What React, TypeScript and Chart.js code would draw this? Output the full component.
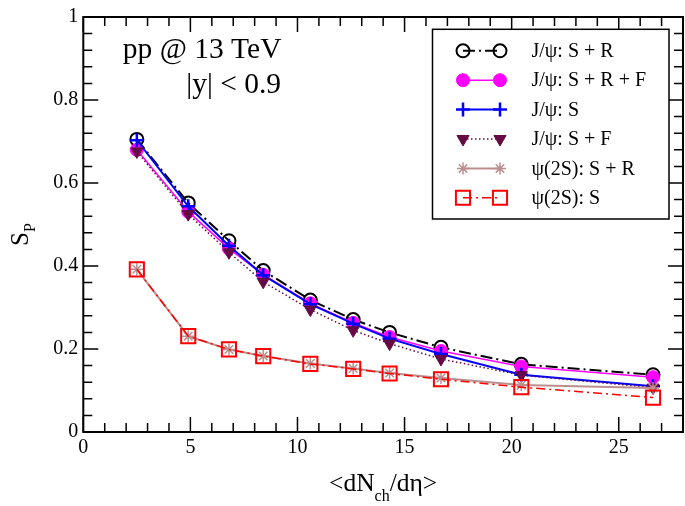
import React, { useEffect, useRef } from 'react';
import { Chart, registerables } from 'chart.js';

Chart.register(...registerables);

// ---------------- data ----------------
const X_VALUES = [2.5, 4.9, 6.8, 8.4, 10.6, 12.6, 14.3, 16.7, 20.45, 26.6];

const JPSI_S_R = [0.705, 0.552, 0.461, 0.389, 0.318, 0.271, 0.240, 0.204, 0.163, 0.138];
const JPSI_S_R_F = [0.680, 0.531, 0.442, 0.379, 0.310, 0.263, 0.229, 0.195, 0.158, 0.132];
const JPSI_S = [0.703, 0.544, 0.449, 0.378, 0.308, 0.261, 0.225, 0.188, 0.138, 0.110];
const JPSI_S_F = [0.676, 0.525, 0.433, 0.362, 0.295, 0.245, 0.213, 0.176, 0.137, 0.107];
const PSI2S_S_R = [0.392, 0.231, 0.199, 0.183, 0.165, 0.153, 0.142, 0.130, 0.113, 0.106];
const PSI2S_S = [0.392, 0.231, 0.199, 0.183, 0.164, 0.152, 0.141, 0.127, 0.108, 0.083];

const SERIES_LABELS = [
  'J/ψ: S + R',
  'J/ψ: S + R + F',
  'J/ψ: S',
  'J/ψ: S + F',
  'ψ(2S): S + R',
  'ψ(2S): S',
];
const SERIES_VALUES = [JPSI_S_R, JPSI_S_R_F, JPSI_S, JPSI_S_F, PSI2S_S_R, PSI2S_S];

const X_TICKS = [0, 5, 10, 15, 20, 25];
const Y_TICKS = [0, 0.2, 0.4, 0.6, 0.8, 1];
const X_MIN = 0;
const X_MAX = 28;
const Y_MIN = 0;
const Y_MAX = 1;
const X_MINOR_STEP = 1;
const Y_MINOR_STEP = 0.04;

const ANNOTATION_LINES = ['pp @ 13 TeV', '|y| < 0.9'];

// ---------------- styles ----------------
const FONT = '"Liberation Serif", "Times New Roman", serif';

type Style = {
  color: string;
  fill: string;
  lineWidth: number;
  dash: number[];
  pointStyle: string;
  radius: number;
  pointLineWidth: number;
  rotation: number;
};

const STYLES: Style[] = [
  { color: '#000000', fill: 'rgba(0,0,0,0)', lineWidth: 2, dash: [12, 4, 2, 4], pointStyle: 'circle', radius: 6.5, pointLineWidth: 2, rotation: 0 },
  { color: '#ff00ff', fill: '#ff00ff', lineWidth: 1.5, dash: [], pointStyle: 'circle', radius: 6.5, pointLineWidth: 1, rotation: 0 },
  { color: '#0000ff', fill: '#0000ff', lineWidth: 2, dash: [], pointStyle: 'cross', radius: 7, pointLineWidth: 2.5, rotation: 0 },
  { color: '#650a45', fill: '#650a45', lineWidth: 1.5, dash: [1.5, 2.5], pointStyle: 'triangle', radius: 7, pointLineWidth: 1, rotation: 180 },
  { color: '#bc8f8f', fill: '#bc8f8f', lineWidth: 2, dash: [], pointStyle: 'star', radius: 6, pointLineWidth: 1.5, rotation: 0 },
  { color: '#ff0000', fill: 'rgba(0,0,0,0)', lineWidth: 1.5, dash: [9, 4, 2, 4], pointStyle: 'rect', radius: 10, pointLineWidth: 2, rotation: 0 },
];

function drawMarker(ctx: CanvasRenderingContext2D, s: Style, x: number, y: number) {
  const r = s.radius;
  ctx.save();
  ctx.setLineDash([]);
  ctx.strokeStyle = s.color;
  ctx.fillStyle = s.fill;
  ctx.lineWidth = s.pointLineWidth;
  ctx.beginPath();
  let rad = (s.rotation * Math.PI) / 180;
  switch (s.pointStyle) {
    case 'circle':
      ctx.arc(x, y, r, 0, Math.PI * 2);
      ctx.closePath();
      ctx.fill();
      ctx.stroke();
      break;
    case 'rect': {
      const sz = Math.SQRT1_2 * r;
      ctx.rect(x - sz, y - sz, 2 * sz, 2 * sz);
      ctx.fill();
      ctx.stroke();
      break;
    }
    case 'triangle':
      ctx.moveTo(x + Math.sin(rad) * r, y - Math.cos(rad) * r);
      rad += (2 * Math.PI) / 3;
      ctx.lineTo(x + Math.sin(rad) * r, y - Math.cos(rad) * r);
      rad += (2 * Math.PI) / 3;
      ctx.lineTo(x + Math.sin(rad) * r, y - Math.cos(rad) * r);
      ctx.closePath();
      ctx.fill();
      ctx.stroke();
      break;
    case 'cross':
      ctx.moveTo(x - r, y);
      ctx.lineTo(x + r, y);
      ctx.moveTo(x, y - r);
      ctx.lineTo(x, y + r);
      ctx.stroke();
      break;
    case 'star': {
      const d = r * Math.SQRT1_2;
      ctx.moveTo(x - r, y);
      ctx.lineTo(x + r, y);
      ctx.moveTo(x, y - r);
      ctx.lineTo(x, y + r);
      ctx.moveTo(x - d, y - d);
      ctx.lineTo(x + d, y + d);
      ctx.moveTo(x - d, y + d);
      ctx.lineTo(x + d, y - d);
      ctx.stroke();
      break;
    }
  }
  ctx.restore();
}

const decorPlugin = {
  id: 'decor',
  afterDraw(chart: any) {
    const { ctx, chartArea: a, scales } = chart;
    const xs = scales.x;
    const ys = scales.y;
    ctx.save();

    // ticks (inward, all four sides)
    ctx.strokeStyle = '#000';
    ctx.lineWidth = 1.5;
    ctx.beginPath();
    const nx = Math.round((X_MAX - X_MIN) / X_MINOR_STEP);
    for (let k = 0; k <= nx; k++) {
      const v = X_MIN + k * X_MINOR_STEP;
      const major = X_TICKS.some((t) => Math.abs(t - v) < 1e-9);
      const len = major ? 15 : 9;
      const px = xs.getPixelForValue(v);
      ctx.moveTo(px, a.bottom);
      ctx.lineTo(px, a.bottom - len);
      ctx.moveTo(px, a.top);
      ctx.lineTo(px, a.top + len);
    }
    const ny = Math.round((Y_MAX - Y_MIN) / Y_MINOR_STEP);
    for (let k = 0; k <= ny; k++) {
      const v = Y_MIN + k * Y_MINOR_STEP;
      const major = Y_TICKS.some((t) => Math.abs(t - v) < 1e-9);
      const len = major ? 15 : 9;
      const py = ys.getPixelForValue(v);
      ctx.moveTo(a.left, py);
      ctx.lineTo(a.left + len, py);
      ctx.moveTo(a.right, py);
      ctx.lineTo(a.right - len, py);
    }
    ctx.stroke();

    // frame
    ctx.lineWidth = 2;
    ctx.strokeRect(a.left, a.top, a.right - a.left, a.bottom - a.top);

    // annotations
    ctx.fillStyle = '#000';
    ctx.textAlign = 'left';
    ctx.textBaseline = 'alphabetic';
    ctx.font = `29.5px ${FONT}`;
    ctx.fillText(ANNOTATION_LINES[0], a.left + 39.5, a.top + 41);
    ctx.fillText(ANNOTATION_LINES[1], a.left + 103, a.top + 76);

    // x title: <dN_ch/dη>
    {
      const p1 = '<dN';
      const sub = 'ch';
      const p2 = '/dη>';
      ctx.font = `25.5px ${FONT}`;
      const w1 = ctx.measureText(p1).width;
      const w3 = ctx.measureText(p2).width;
      ctx.font = `16px ${FONT}`;
      const w2 = ctx.measureText(sub).width;
      const total = w1 + w2 + w3;
      const cx = (a.left + a.right) / 2;
      const base = a.bottom + 59;
      let x = cx - total / 2;
      ctx.font = `25.5px ${FONT}`;
      ctx.fillText(p1, x, base);
      x += w1;
      ctx.font = `16px ${FONT}`;
      ctx.fillText(sub, x, base + 10);
      x += w2;
      ctx.font = `25.5px ${FONT}`;
      ctx.fillText(p2, x, base);
    }

    // y title: S_P
    {
      ctx.save();
      const cy = (a.top + a.bottom) / 2 + 10;
      ctx.translate(28, cy);
      ctx.rotate(-Math.PI / 2);
      ctx.font = `25px ${FONT}`;
      const w1 = ctx.measureText('S').width;
      ctx.font = `16px ${FONT}`;
      const w2 = ctx.measureText('P').width;
      const x0 = -(w1 + w2) / 2;
      ctx.font = `25px ${FONT}`;
      ctx.fillText('S', x0, 0);
      ctx.font = `16px ${FONT}`;
      ctx.fillText('P', x0 + w1, 7);
      ctx.restore();
    }

    // legend
    {
      const boxR = a.right - 14;
      const boxW = 236.5;
      const boxL = boxR - boxW;
      const boxT = a.top + 12.3;
      const boxH = 189.7;
      ctx.fillStyle = '#fff';
      ctx.fillRect(boxL, boxT, boxW, boxH);
      ctx.strokeStyle = '#000';
      ctx.lineWidth = 1.5;
      ctx.strokeRect(boxL, boxT, boxW, boxH);
      const rowH = 29.4;
      for (let i = 0; i < SERIES_LABELS.length; i++) {
        const s = STYLES[i];
        const y = boxT + 21.5 + i * rowH;
        const xl = boxL + 30.5;
        const xr = boxL + 67.5;
        ctx.save();
        ctx.strokeStyle = s.color;
        ctx.lineWidth = s.lineWidth;
        ctx.setLineDash(s.dash);
        ctx.beginPath();
        ctx.moveTo(xl, y);
        ctx.lineTo(xr, y);
        ctx.stroke();
        ctx.restore();
        drawMarker(ctx, s, xl, y);
        drawMarker(ctx, s, xr, y);
        ctx.fillStyle = '#000';
        ctx.font = `20px ${FONT}`;
        ctx.textBaseline = 'middle';
        ctx.fillText(SERIES_LABELS[i], boxL + 99, y + 1);
        ctx.textBaseline = 'alphabetic';
      }
    }

    ctx.restore();
  },
};

export default function App() {
  const ref = useRef<HTMLCanvasElement | null>(null);

  useEffect(() => {
    document.body.style.margin = '0';
    const canvas = ref.current;
    if (!canvas) return;

    const datasets = SERIES_VALUES.map((vals, i) => {
      const s = STYLES[i];
      return {
        label: SERIES_LABELS[i],
        data: X_VALUES.map((x, j) => ({ x, y: vals[j] })),
        borderColor: s.color,
        backgroundColor: s.fill,
        borderWidth: s.lineWidth,
        borderDash: s.dash,
        pointStyle: s.pointStyle as any,
        pointRadius: s.radius,
        pointHoverRadius: s.radius,
        pointBorderWidth: s.pointLineWidth,
        pointBorderColor: s.color,
        pointBackgroundColor: s.fill,
        pointRotation: s.rotation,
        tension: 0,
        fill: false,
        order: 10 - i,
      };
    });

    const chart = new Chart(canvas, {
      type: 'line',
      data: { datasets },
      options: {
        responsive: false,
        animation: false,
        events: [],
        layout: { autoPadding: false, padding: { top: 12, right: 2, left: 0, bottom: 0 } },
        plugins: {
          legend: { display: false },
          tooltip: { enabled: false },
          title: { display: false },
        },
        scales: {
          x: {
            type: 'linear',
            min: X_MIN,
            max: X_MAX,
            grid: { display: false, drawTicks: false, tickLength: 0 },
            border: { display: false },
            afterBuildTicks: (scale: any) => {
              scale.ticks = X_TICKS.map((v) => ({ value: v }));
            },
            afterFit: (scale: any) => {
              scale.height = 74;
            },
            ticks: {
              color: '#000',
              font: { family: FONT, size: 20 },
              padding: 4,
              maxRotation: 0,
              autoSkip: false,
              callback: (v: any) => String(v),
            },
          },
          y: {
            type: 'linear',
            min: Y_MIN,
            max: Y_MAX,
            grid: { display: false, drawTicks: false, tickLength: 0 },
            border: { display: false },
            afterBuildTicks: (scale: any) => {
              scale.ticks = Y_TICKS.map((v) => ({ value: v }));
            },
            afterFit: (scale: any) => {
              scale.width = 83.3;
            },
            ticks: {
              color: '#000',
              font: { family: FONT, size: 20 },
              padding: 5,
              autoSkip: false,
              callback: (v: any) => String(Math.round(Number(v) * 10) / 10),
            },
          },
        },
      },
      plugins: [decorPlugin],
    });

    return () => chart.destroy();
  }, []);

  return (
    <div style={{ width: 685, height: 506, position: 'relative' }}>
      <canvas ref={ref} width={685} height={506} style={{ display: 'block', width: 685, height: 506 }} />
    </div>
  );
}
